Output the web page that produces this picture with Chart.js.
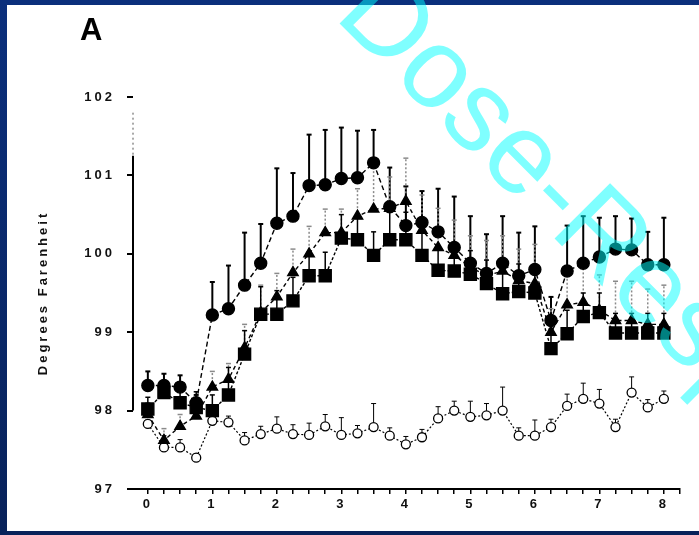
<!DOCTYPE html>
<html><head><meta charset="utf-8">
<script src="https://cdn.jsdelivr.net/npm/chart.js@4"></script>
<style>html,body{margin:0;padding:0;background:#0c2a6b;overflow:hidden}#wrap{width:699px;height:535px;position:relative}canvas{display:block}</style>
</head><body><div id="wrap"><canvas id="c" width="699" height="535"></canvas></div>
<script>
const hours = [0,0.25,0.5,0.75,1,1.25,1.5,1.75,2,2.25,2.5,2.75,3,3.25,3.5,3.75,4,4.25,4.5,4.75,5,5.25,5.5,5.75,6,6.25,6.5,6.75,7,7.25,7.5,7.75,8];
const xTickLabels = ['0','1','2','3','4','5','6','7','8'];
const yTickLabels = ['97','98','99','100','101','102'];

const circleTemp = [98.32,98.32,98.30,98.10,99.22,99.30,99.60,99.88,100.39,100.48,100.87,100.88,100.96,100.97,101.16,100.60,100.36,100.40,100.28,100.08,99.88,99.75,99.88,99.72,99.80,99.15,99.78,99.88,99.96,100.06,100.05,99.86,99.86];
const circleErr  = [0.18,0.15,0.15,0.10,0.42,0.55,0.67,0.50,0.70,0.55,0.65,0.70,0.65,0.60,0.42,0.50,0.50,0.40,0.55,0.65,0.60,0.50,0.60,0.55,0.55,0.30,0.58,0.60,0.50,0.42,0.40,0.42,0.60];

const triangleTemp = [97.95,97.62,97.80,97.93,98.30,98.40,98.80,99.25,99.45,99.76,100.00,100.27,100.27,100.48,100.57,100.58,100.67,100.30,100.08,99.98,99.83,99.72,99.78,99.66,99.62,99.00,99.35,99.38,99.28,99.15,99.15,99.10,99.10];
const triangleErr  = [0.15,0.15,0.15,0.15,0.20,0.20,0.30,0.35,0.30,0.30,0.35,0.30,0.30,0.35,0.60,0.40,0.55,0.45,0.50,0.45,0.40,0.45,0.45,0.40,0.50,0.30,0.45,0.50,0.45,0.50,0.50,0.45,0.50];

const squareTemp = [98.02,98.23,98.10,98.04,98.00,98.20,98.72,99.23,99.23,99.40,99.72,99.72,100.20,100.18,99.98,100.18,100.18,99.98,99.79,99.78,99.74,99.62,99.49,99.52,99.50,98.79,98.98,99.20,99.25,98.99,98.99,98.99,98.99];
const squareErr  = [0.15,0.15,0.15,0.20,0.20,0.35,0.30,0.35,0.30,0.30,0.30,0.30,0.30,0.30,0.30,0.35,0.35,0.30,0.30,0.30,0.30,0.30,0.30,0.35,0.30,0.25,0.30,0.30,0.25,0.25,0.25,0.25,0.25];

const openTemp = [97.83,97.53,97.53,97.40,97.87,97.85,97.62,97.70,97.77,97.70,97.69,97.80,97.69,97.71,97.79,97.68,97.57,97.66,97.90,98.00,97.92,97.94,98.00,97.68,97.68,97.79,98.06,98.15,98.09,97.79,98.23,98.04,98.15];
const openErr  = [0.05,0.15,0.10,0.05,0.05,0.08,0.10,0.10,0.15,0.12,0.15,0.15,0.22,0.10,0.30,0.10,0.10,0.10,0.15,0.12,0.20,0.15,0.30,0.10,0.20,0.10,0.15,0.20,0.18,0.10,0.20,0.10,0.10];

const toXY = arr => hours.map((h, i) => ({x: h, y: arr[i]}));

const errorBars = {
  id: 'errorBars',
  beforeDatasetsDraw(chart) {
    const ctx = chart.ctx, ys = chart.scales.y;
    chart.data.datasets.forEach((ds, di) => {
      const meta = chart.getDatasetMeta(di);
      ctx.save();
      ctx.strokeStyle = ds.errColor; ctx.lineWidth = ds.errWidth;
      ctx.setLineDash(ds.errDash);
      meta.data.forEach((pt, i) => {
        const v = ds.data[i].y, e = ds.errors[i];
        const yTop = ys.getPixelForValue(v + e);
        ctx.beginPath(); ctx.moveTo(pt.x, pt.y); ctx.lineTo(pt.x, yTop); ctx.stroke();
        ctx.setLineDash([]);
        ctx.beginPath(); ctx.moveTo(pt.x - 2.5, yTop); ctx.lineTo(pt.x + 2.5, yTop); ctx.stroke();
        ctx.setLineDash(ds.errDash);
      });
      ctx.restore();
    });
  }
};

const decor = {
  id: 'decor',
  beforeDraw(chart) {
    const ctx = chart.ctx;
    ctx.save();
    const g = ctx.createLinearGradient(0, 0, 0, 535);
    g.addColorStop(0, '#0b2f7c'); g.addColorStop(1, '#08225a');
    ctx.fillStyle = g; ctx.fillRect(0, 0, 699, 535);
    ctx.fillStyle = '#ffffff'; ctx.fillRect(7, 5, 692, 526);
    ctx.restore();
    ctx.letterSpacing = '3px';
  },
  beforeDatasetsDraw(chart) {
    const ctx = chart.ctx, ys = chart.scales.y, x = chart.chartArea.left;
    ctx.letterSpacing = '0px';
    ctx.save();
    ctx.strokeStyle = '#000'; ctx.lineWidth = 2;
    ctx.beginPath(); ctx.moveTo(x, ys.getPixelForValue(101.25)); ctx.lineTo(x, ys.getPixelForValue(98)); ctx.stroke();
    ctx.lineWidth = 1; ctx.setLineDash([2, 3]); ctx.strokeStyle = '#555';
    ctx.beginPath(); ctx.moveTo(x, ys.getPixelForValue(101.8)); ctx.lineTo(x, ys.getPixelForValue(101.25)); ctx.stroke();
    ctx.restore();
  },
  afterDraw(chart) {
    const ctx = chart.ctx;
    ctx.save();
    ctx.letterSpacing = '0px';
    ctx.fillStyle = '#000';
    ctx.font = 'bold 31px Arial, "Liberation Sans", sans-serif';
    ctx.textBaseline = 'alphabetic';
    ctx.fillText('A', 80, 40);
    ctx.translate(333, 17);
    ctx.rotate(45 * Math.PI / 180);
    ctx.font = '114px Arial, "Liberation Sans", sans-serif';
    ctx.fillStyle = 'rgba(0,255,255,0.5)';
    ctx.fillText('Dose-Response', 0, 0);
    ctx.restore();
  }
};

new Chart(document.getElementById('c'), {
  type: 'line',
  data: {
    datasets: [
      {label: 'filled circles', data: toXY(circleTemp), errors: circleErr,
       errColor: '#000', errWidth: 2, errDash: [],
       borderColor: '#000', borderWidth: 1.4, borderDash: [5, 3], backgroundColor: '#000',
       pointStyle: 'circle', pointRadius: 6, pointBackgroundColor: '#000', pointBorderColor: '#000'},
      {label: 'filled triangles', data: toXY(triangleTemp), errors: triangleErr,
       errColor: '#8a8a8a', errWidth: 1.5, errDash: [2, 2],
       borderColor: '#000', borderWidth: 1.4, borderDash: [4, 3], backgroundColor: '#000',
       pointStyle: 'triangle', pointRadius: 6, pointBackgroundColor: '#000', pointBorderColor: '#000'},
      {label: 'filled squares', data: toXY(squareTemp), errors: squareErr,
       errColor: '#000', errWidth: 1.5, errDash: [],
       borderColor: '#000', borderWidth: 1.4, borderDash: [3, 2], backgroundColor: '#000',
       pointStyle: 'rect', pointRadius: 8.5, pointBackgroundColor: '#000', pointBorderColor: '#000'},
      {label: 'open circles', data: toXY(openTemp), errors: openErr,
       errColor: '#000', errWidth: 1, errDash: [],
       borderColor: '#000', borderWidth: 1.2, borderDash: [2, 2], backgroundColor: '#fff',
       pointStyle: 'circle', pointRadius: 4.5, pointBorderWidth: 1.3, pointBackgroundColor: '#fff', pointBorderColor: '#000'}
    ]
  },
  options: {
    responsive: false, animation: false, devicePixelRatio: 1,
    layout: {padding: {top: 97, right: 19, bottom: 0, left: 0}},
    plugins: {legend: {display: false}, tooltip: {enabled: false}},
    scales: {
      x: {
        type: 'linear', min: -0.23, max: 8.25,
        afterFit: s => { s.height = 46; },
        border: {display: true, color: '#000', width: 2},
        grid: {display: true, drawOnChartArea: false, drawTicks: true, tickLength: 5, color: '#000', lineWidth: 1.5},
        ticks: {stepSize: 0.25, includeBounds: false, autoSkip: false, maxRotation: 0, padding: 3,
          color: '#111', font: {family: 'Arial, "Liberation Sans", sans-serif', size: 13, weight: 'bold'},
          callback: v => Number.isInteger(v) ? xTickLabels[v] : ''}
      },
      y: {
        type: 'linear', min: 97, max: 102,
        afterFit: s => { s.width = 133; },
        border: {display: false},
        grid: {display: true, drawOnChartArea: false, drawTicks: true, tickLength: 6, color: '#000', lineWidth: 2},
        title: {display: true, text: 'Degrees Farenheit', color: '#111', padding: {top: 36, bottom: 0},
          font: {family: 'Arial, "Liberation Sans", sans-serif', size: 13, weight: 'bold'}},
        ticks: {stepSize: 1, padding: 12, color: '#111',
          font: {family: 'Arial, "Liberation Sans", sans-serif', size: 13, weight: 'bold'},
          callback: v => yTickLabels[v - 97]}
      }
    }
  },
  plugins: [errorBars, decor]
});
</script></body></html>
